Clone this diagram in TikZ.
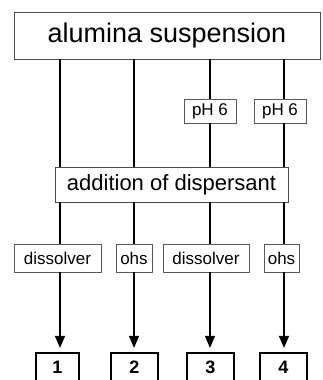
\documentclass[tikz,border=0pt]{standalone}
\usepackage{fontspec}
\setmainfont{Liberation Sans}
\usetikzlibrary{arrows.meta,positioning}

\begin{document}
\begin{tikzpicture}[x=1pt,y=-1pt,
  stepbox/.style={draw=black!65,line width=0.8pt,inner sep=0pt,minimum height=28,font=\fontsize{17}{17}\selectfont},
  resbox/.style={draw,line width=2.2pt,inner sep=0pt,minimum height=29,font=\fontsize{18}{18}\selectfont\bfseries},
  conn/.style={line width=1.1pt},
  arr/.style={conn,-{Triangle[length=12pt,width=10pt]},shorten >=4pt}]
\useasboundingbox (0,0) rectangle (322,380);
\coordinate (c1) at (60,0);
\coordinate (c2) at (134,0);
\coordinate (c3) at (210,0);
\coordinate (c4) at (284,0);
\node[draw=black!70,line width=0.8pt,minimum width=306,minimum height=47,inner sep=0pt,font=\fontsize{27}{27}\selectfont] (susp) at (167,35.5) {alumina suspension};
\node[stepbox,minimum width=52,minimum height=24] (ph1) at (210,111) {pH 6};
\node[stepbox,minimum width=52,minimum height=24] (ph2) at (280,111) {pH 6};
\node[draw=black!70,line width=0.8pt,minimum width=233,minimum height=35,inner sep=0pt,font=\fontsize{22}{22}\selectfont] (add) at (171.5,184.5) {addition of dispersant};
\node[stepbox,minimum width=87] (s1) at (57.5,258) {dissolver};
\node[stepbox,minimum width=36] (s2) at (134,258) {ohs};
\node[stepbox,minimum width=86] (s3) at (206,258) {dissolver};
\node[stepbox,minimum width=35] (s4) at (281.5,258) {ohs};
\node[resbox,minimum width=43] (n1) at (57.5,367.5) {1};
\node[resbox,minimum width=47] (n2) at (134.5,367.5) {2};
\node[resbox,minimum width=47] (n3) at (210.5,367.5) {3};
\node[resbox,minimum width=47] (n4) at (283.5,367.5) {4};
\draw[conn] (susp.south -| c1) -- (add.north -| c1);
\draw[conn] (susp.south -| c2) -- (add.north -| c2);
\draw[conn] (susp.south -| c3) -- (ph1.north -| c3);
\draw[conn] (ph1.south -| c3) -- (add.north -| c3);
\draw[conn] (susp.south -| c4) -- (ph2.north -| c4);
\draw[conn] (ph2.south -| c4) -- (add.north -| c4);
\foreach \i in {1,...,4} {
  \draw[conn] (add.south -| c\i) -- (s\i.north -| c\i);
  \draw[arr] (s\i.south -| c\i) -- (n\i.north -| c\i);
}
\end{tikzpicture}
\end{document}
